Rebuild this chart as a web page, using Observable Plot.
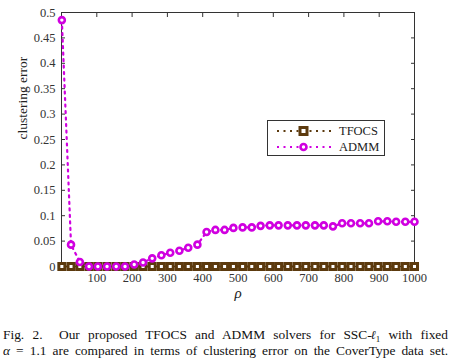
<!DOCTYPE html>
<html><head><meta charset="utf-8">
<script src="https://cdn.jsdelivr.net/npm/d3@7"></script>
<script src="https://cdn.jsdelivr.net/npm/@observablehq/plot@0.6"></script>
<style>
body{margin:0;background:#fff;width:450px;height:358px;overflow:hidden;font-family:"Liberation Serif","Times New Roman",serif;}
#wrap{position:relative;width:450px;}
#legend{position:absolute;left:267px;top:120px;width:118px;height:36px;border:1px solid #333;background:#fff;box-sizing:border-box;font-size:12.5px;color:#222;font-family:"Liberation Serif","Times New Roman",serif;}
#legend .row{position:absolute;left:0;height:14px;line-height:14px;}
#legend svg{position:absolute;left:7px;top:0;}
#legend span{position:absolute;left:71px;top:0;white-space:nowrap;}
.cap{font-family:"Liberation Serif","Times New Roman",serif;font-size:13.4px;line-height:13.5px;color:#111;text-align:justify;text-align-last:justify;padding:0 2px 0 3px;white-space:nowrap;}
.ssc{display:inline-block;}
.ell{font-family:"DejaVu Serif",serif;font-style:italic;font-size:12px;margin-left:-1px;}
</style></head>
<body>
<div id="wrap"><div id="chart"></div><div id="legend"></div></div>
<div id="caption" style="margin-top:18px">
<div class="cap">Fig. 2.&nbsp; Our proposed TFOCS and ADMM solvers for <span class="ssc">SSC-<span class="ell">ℓ</span><span style="font-size:9px;position:relative;top:3px">1</span></span> with fixed</div>
<div class="cap"><i>α</i> = 1.1 are compared in terms of clustering error on the CoverType data set.</div>
</div>
<script>
const rho = [1,27,52,78,103,129,155,180,206,231,257,283,308,334,359,385,411,436,462,487,513,539,564,590,615,641,667,692,718,743,769,795,820,846,871,897,923,948,974,1000];
const tfocs = [0,0,0,0,0,0,0,0,0,0,0,0,0,0,0,0,0,0,0,0,0,0,0,0,0,0,0,0,0,0,0,0,0,0,0,0,0,0,0,0];
const admm = [0.485,0.043,0.009,0,0,0,0,0,0.004,0.008,0.016,0.022,0.027,0.031,0.037,0.043,0.068,0.072,0.072,0.076,0.077,0.077,0.080,0.081,0.081,0.081,0.081,0.081,0.081,0.081,0.079,0.085,0.085,0.085,0.085,0.089,0.089,0.088,0.088,0.088];
const xTicks = [100,200,300,400,500,600,700,800,900,1000];
const yTicks = [0,0.05,0.1,0.15,0.2,0.25,0.3,0.35,0.4,0.45,0.5];
const seriesNames = ["TFOCS","ADMM"];
const colors = {TFOCS:"#5c3a0e", ADMM:"#d000e0"};

const tf = rho.map((r,i)=>({rho:r, v:tfocs[i]}));
const ad = rho.map((r,i)=>({rho:r, v:admm[i]}));

const chart = Plot.plot({
  width:450, height:310,
  marginLeft:61, marginRight:36, marginTop:12, marginBottom:44,
  style:{fontFamily:'"Liberation Serif", "Times New Roman", serif', fontSize:"12.5px", color:"#333", background:"white", overflow:"visible"},
  x:{domain:[0,1000]},
  y:{domain:[0,0.5]},
  marks:[
    Plot.axisX({ticks:xTicks, tickSize:-4, tickPadding:11, tickFormat:d=>String(d), label:null}),
    Plot.axisX({anchor:"top", ticks:xTicks, tickSize:-4, tickFormat:()=>"", label:null}),
    Plot.axisY({ticks:yTicks, tickSize:-4, tickPadding:10, tickFormat:d=>String(d), label:null}),
    Plot.axisY({anchor:"right", ticks:yTicks, tickSize:-4, tickFormat:()=>"", label:null}),
    Plot.frame({stroke:"#333", strokeWidth:1}),
    Plot.line(ad, {x:"rho", y:"v", stroke:colors.ADMM, strokeWidth:2.2, strokeDasharray:"2,4.5", clip:true}),
    Plot.line(tf, {x:"rho", y:"v", stroke:colors.TFOCS, strokeWidth:2, strokeDasharray:"2,3"}),
    Plot.dot(tf, {x:"rho", y:"v", symbol:"square", r:3.4, stroke:colors.TFOCS, strokeWidth:3, fill:"white"}),
    Plot.dot(ad, {x:"rho", y:"v", symbol:"circle", r:3, stroke:colors.ADMM, strokeWidth:2.6, fill:"white"}),
    Plot.text(["clustering error"], {frameAnchor:"left", dx:-39, rotate:-90, fontSize:13.5, fill:"#222"}),
    Plot.text(["ρ"], {frameAnchor:"bottom", dy:31, fontSize:15, fontStyle:"italic", fill:"#222"})
  ]
});
document.getElementById("chart").appendChild(chart);

const leg = document.getElementById("legend");
seriesNames.forEach((name,i)=>{
  const row = document.createElement("div");
  row.className="row";
  row.style.top = (3+i*16)+"px";
  row.style.width="118px";
  const c = colors[name];
  const marker = name==="TFOCS"
    ? `<rect x="25" y="3.5" width="7" height="7" fill="white" stroke="${c}" stroke-width="3"/>`
    : `<circle cx="28.5" cy="7" r="3" fill="white" stroke="${c}" stroke-width="2.6"/>`;
  row.innerHTML = `<svg width="60" height="14"><line x1="2" x2="56" y1="7" y2="7" stroke="${c}" stroke-width="2" stroke-dasharray="2,4.5"/>${marker}</svg><span>${name}</span>`;
  leg.appendChild(row);
});
</script>
</body></html>
